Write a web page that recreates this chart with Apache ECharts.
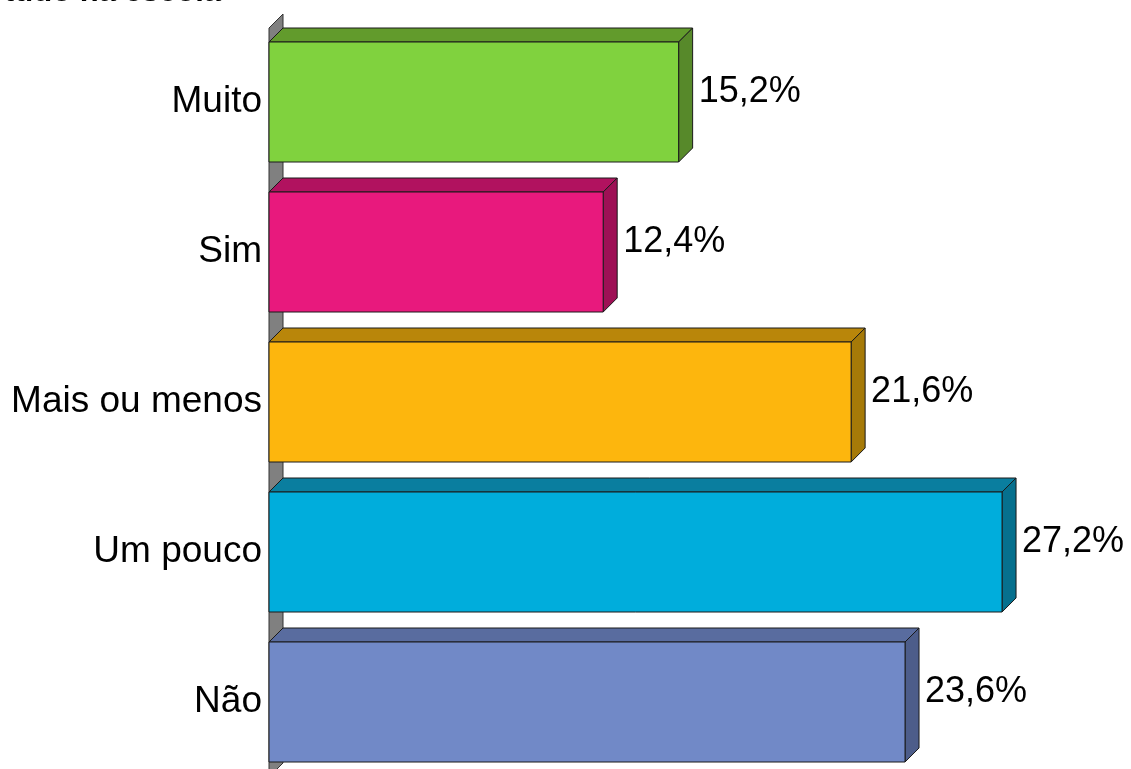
<!DOCTYPE html>
<html>
<head>
<meta charset="utf-8">
<script src="https://cdn.jsdelivr.net/npm/echarts@6/dist/echarts.min.js"></script>
<style>
  html, body { margin: 0; padding: 0; background: #fff; }
  #chart { width: 1131px; height: 769px; }
</style>
</head>
<body>
<div id="chart"></div>
<script>
// dados
var categorias = ['Muito', 'Sim', 'Mais ou menos', 'Um pouco', 'Não'];
var percentuais = [15.2, 12.4, 21.6, 27.2, 23.6];

// cores: frente / topo / lateral
var corFrente = ['#80D23E', '#E8197D', '#FDB60D', '#00ADDC', '#7189C7'];
var corTopo   = ['#629B2C', '#B1125F', '#B9860A', '#0A7E9F', '#596C9F'];
var corLado   = ['#57892A', '#9E1055', '#A67A08', '#06708E', '#4D5D8A'];

var prof = 14; // profundidade 3D
var fonte = "'Liberation Sans', Arial, sans-serif";

var chart = echarts.init(document.getElementById('chart'));

// parede cinza do fundo
function renderParede(params, api) {
  var cs = params.coordSys;
  var x0 = cs.x, yT = cs.y + 1, yB = cs.y + cs.height;
  return {
    type: 'polygon',
    shape: { points: [[x0, yT], [x0 + prof, yT - prof], [x0 + prof, yB - prof], [x0, yB]] },
    style: { fill: '#808080', stroke: '#333', lineWidth: 1 }
  };
}

// barra 3D
function renderBarra(params, api) {
  var i = params.dataIndex;
  var v = api.value(0);
  var c = api.value(1);
  var p0 = api.coord([0, c]);
  var p1 = api.coord([v, c]);
  var h = api.size([0, 1])[1] * 0.8;
  var x0 = p0[0], x1 = p1[0];
  var yT = p0[1] - h / 2, yB = p0[1] + h / 2;
  var d = prof;
  var borda = { stroke: '#1a1a1a', lineWidth: 1 };
  return {
    type: 'group',
    children: [
      { type: 'polygon',
        shape: { points: [[x0, yT], [x0 + d, yT - d], [x1 + d, yT - d], [x1, yT]] },
        style: Object.assign({ fill: corTopo[i] }, borda) },
      { type: 'polygon',
        shape: { points: [[x1, yT], [x1 + d, yT - d], [x1 + d, yB - d], [x1, yB]] },
        style: Object.assign({ fill: corLado[i] }, borda) },
      { type: 'rect',
        shape: { x: x0, y: yT, width: x1 - x0, height: yB - yT },
        style: Object.assign({ fill: corFrente[i] }, borda) },
      { type: 'text',
        style: {
          x: x1 + d + 6, y: p0[1] - 10,
          text: v.toFixed(1).replace('.', ',') + '%',
          fill: '#000', font: '36px ' + fonte,
          align: 'left', verticalAlign: 'middle'
        } }
    ]
  };
}

var option = {
  animation: false,
  backgroundColor: '#fff',
  graphic: [{
    type: 'text', left: 4, top: -23,
    style: { text: 'tudo na escola', fill: '#000', font: 'bold 31px ' + fonte }
  }],
  grid: { left: 269, top: 27, width: 808.5, height: 750, outerBoundsMode: 'none', containLabel: false },
  xAxis: { type: 'value', min: 0, max: 30, show: false },
  yAxis: {
    type: 'category',
    data: categorias,
    inverse: true,
    axisLine: { show: false },
    axisTick: { show: false },
    splitLine: { show: false },
    axisLabel: { color: '#000', fontSize: 37, fontFamily: fonte, margin: 7, padding: [4, 0, 0, 0] }
  },
  series: [
    { type: 'custom', renderItem: renderParede, data: [[0, 0]], z: 1, silent: true },
    { type: 'custom', renderItem: renderBarra, z: 2,
      encode: { x: 0, y: 1 },
      data: percentuais.map(function (v, k) { return [v, k]; }) }
  ]
};
chart.setOption(option);
</script>
</body>
</html>
